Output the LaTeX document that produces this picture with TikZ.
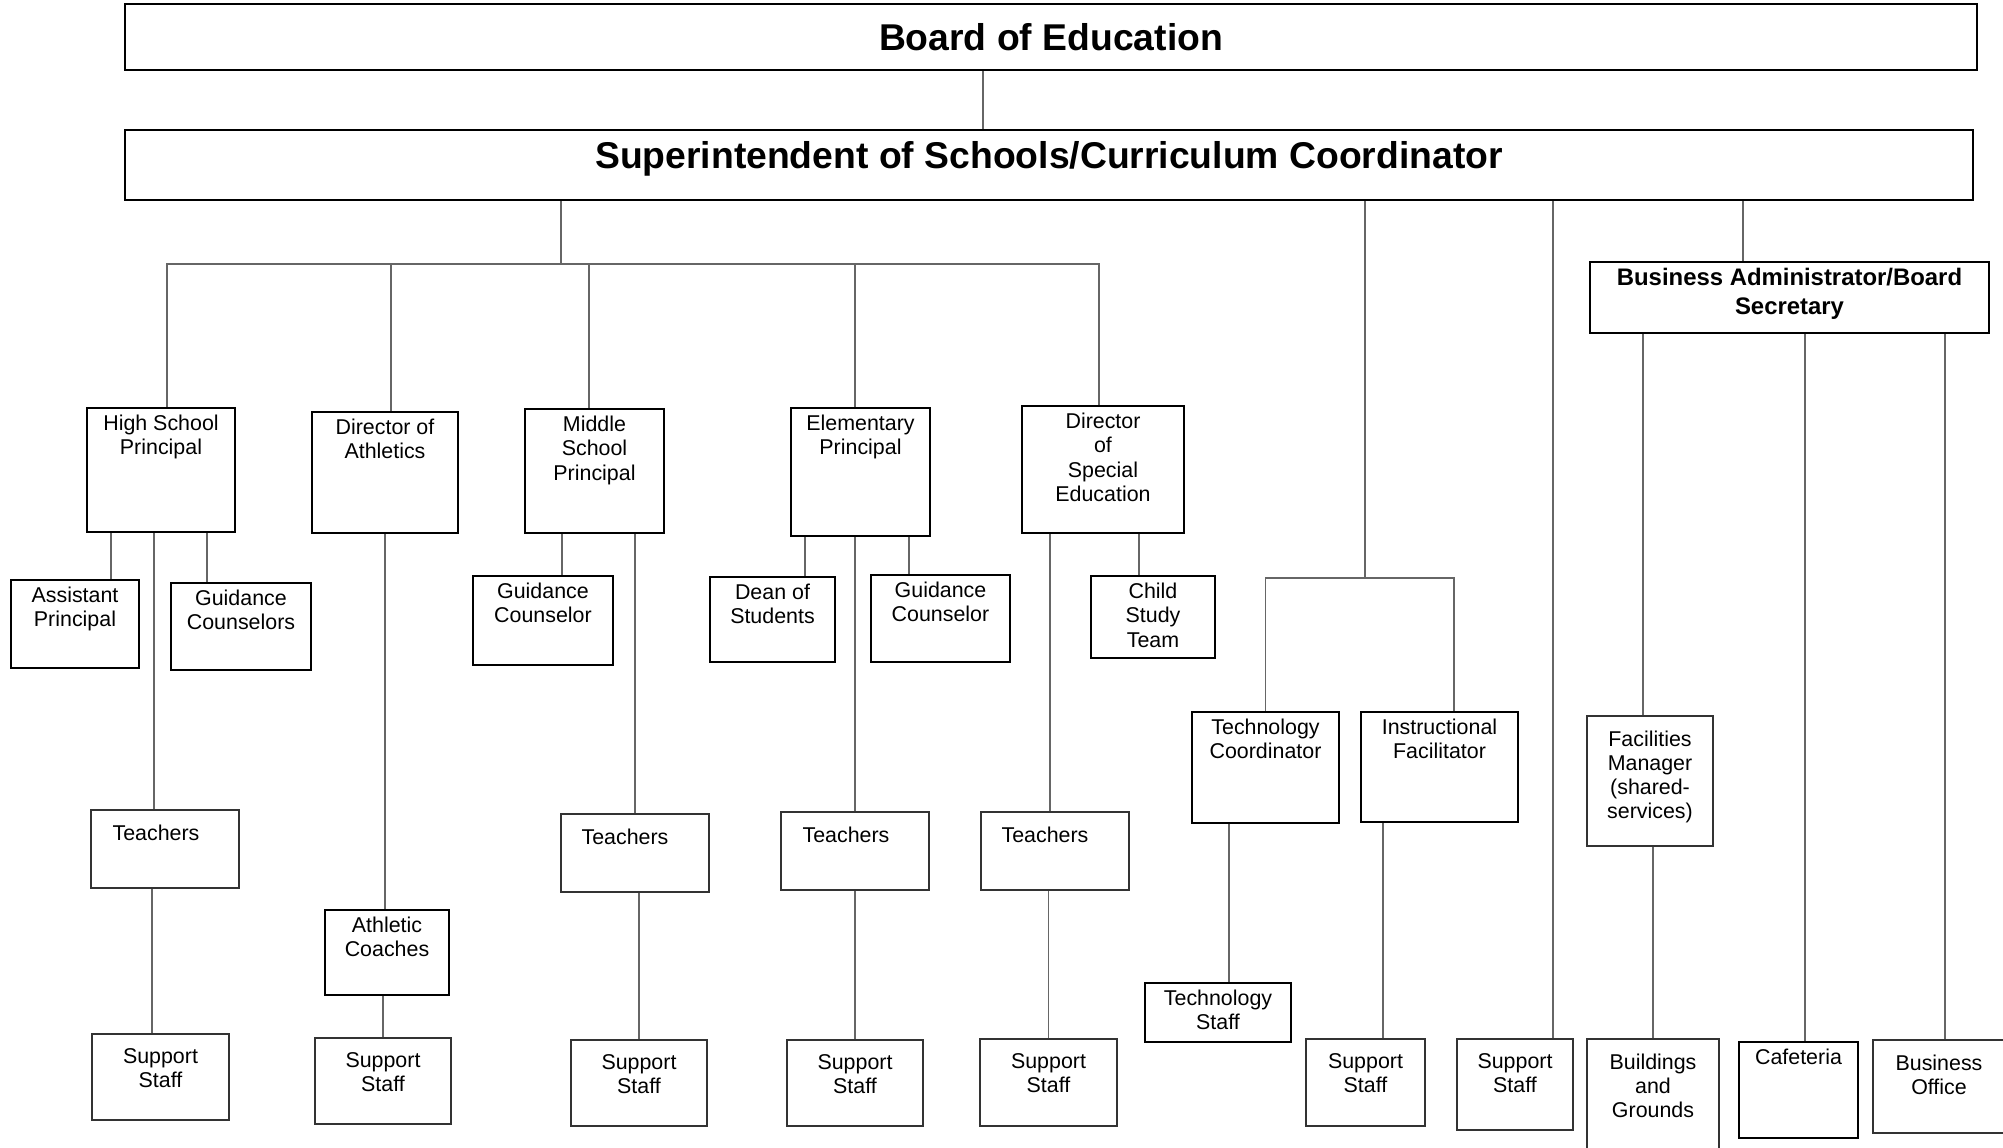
\documentclass[tikz,border=0pt]{standalone}
\usepackage{fontspec}
\setmainfont{Liberation Sans}
\tikzset{font=\fontsize{21.4}{24.3}\selectfont}

\begin{document}
\begin{tikzpicture}[x=1pt,y=-1pt,
    box/.style={draw,line width=2.2},
    thinbox/.style={draw=black!80,line width=1.4},
    lab/.style={anchor=north,align=center,inner sep=8},
    lablow/.style={lab,inner ysep=15},
    big/.style={font=\fontsize{37.3}{44}\selectfont\bfseries},
    mid/.style={font=\fontsize{23.9}{29.4}\selectfont\bfseries},
    link/.style={draw=black!60,line width=1.5}]
    \useasboundingbox (0,0) rectangle (2003,1148);

    % top of the chart
    \node[box,big,minimum width=1852,minimum height=66] (board) at (1051,37) {Board of Education};
    \node[box,minimum width=1848,minimum height=70,label={[lab,big,inner sep=12]north:{Superintendent of Schools/Curriculum Coordinator}}] (super) at (1049,165) {};
    \node[box,minimum width=399,minimum height=71,label={[lab,mid,inner sep=7]north:{Business Administrator/Board\\Secretary}}] (busadm) at (1789.5,297.5) {};

    % principals and directors
    \node[box,minimum width=148,minimum height=124,label={[lab]north:{High School\\Principal}}] (hsp) at (161,470) {};
    \node[box,minimum width=146,minimum height=121,label={[lab]north:{Director of\\Athletics}}] (dirath) at (385,472.5) {};
    \node[box,minimum width=139,minimum height=124,label={[lab]north:{Middle\\School\\Principal}}] (msp) at (594.5,471) {};
    \node[box,minimum width=139,minimum height=128,label={[lab]north:{Elementary\\Principal}}] (elp) at (860.5,472) {};
    \node[box,minimum width=162,minimum height=127,label={[lab]north:{Director\\of\\Special\\Education}}] (dirse) at (1103,469.5) {};

    % second row
    \node[box,minimum width=128,minimum height=88,label={[lab]north:{Assistant\\Principal}}] (asst) at (75,624) {};
    \node[box,minimum width=140,minimum height=87,label={[lab]north:{Guidance\\Counselors}}] (hsguid) at (241,626.5) {};
    \node[box,minimum width=140,minimum height=89,label={[lab]north:{Guidance\\Counselor}}] (msguid) at (543,620.5) {};
    \node[box,minimum width=125,minimum height=85,label={[lab]north:{Dean of\\Students}}] (dean) at (772.5,619.5) {};
    \node[box,minimum width=139,minimum height=87,label={[lab]north:{Guidance\\Counselor}}] (elguid) at (940.5,618.5) {};
    \node[box,minimum width=124,minimum height=82,label={[lab]north:{Child\\Study\\Team}}] (cst) at (1153,617) {};

    \node[box,minimum width=147,minimum height=111,label={[lab]north:{Technology\\Coordinator}}] (techco) at (1265.5,767.5) {};
    \node[box,minimum width=157,minimum height=110,label={[lab]north:{Instructional\\Facilitator}}] (instf) at (1439.5,767) {};
    \node[thinbox,minimum width=126,minimum height=130,label={[lablow]north:{Facilities\\Manager\\(shared-\\services)}}] (facman) at (1650,781) {};

    % teachers
    \node[thinbox,minimum width=148,minimum height=78,label={[lablow,xshift=-9]north:Teachers}] (hsteach) at (165,849) {};
    \node[thinbox,minimum width=148,minimum height=78,label={[lablow,xshift=-10]north:Teachers}] (msteach) at (635,853) {};
    \node[thinbox,minimum width=148,minimum height=78,label={[lablow,xshift=-9]north:Teachers}] (elteach) at (855,851) {};
    \node[thinbox,minimum width=148,minimum height=78,label={[lablow,xshift=-10]north:Teachers}] (seteach) at (1055,851) {};
    \node[box,minimum width=124,minimum height=85,label={[lab]north:{Athletic\\Coaches}}] (athco) at (387,952.5) {};
    \node[box,minimum width=146,minimum height=59,label={[lab]north:{Technology\\Staff}}] (techst) at (1218,1012.5) {};

    % bottom row
    \node[thinbox,minimum width=137,minimum height=86,label={[lablow]north:{Support\\Staff}}] (hssup) at (160.5,1077) {};
    \node[thinbox,minimum width=136,minimum height=86,label={[lablow]north:{Support\\Staff}}] (athsup) at (383,1081) {};
    \node[thinbox,minimum width=136,minimum height=86,label={[lablow]north:{Support\\Staff}}] (mssup) at (639,1083) {};
    \node[thinbox,minimum width=136,minimum height=86,label={[lablow]north:{Support\\Staff}}] (elsup) at (855,1083) {};
    \node[thinbox,minimum width=137,minimum height=87,label={[lablow]north:{Support\\Staff}}] (sesup) at (1048.5,1082.5) {};
    \node[thinbox,minimum width=119,minimum height=87,label={[lablow]north:{Support\\Staff}}] (ifsup) at (1365.5,1082.5) {};
    \node[thinbox,minimum width=116,minimum height=91,label={[lablow]north:{Support\\Staff}}] (supsup) at (1515,1084.5) {};
    \node[thinbox,minimum width=132,minimum height=121,label={[lablow]north:{Buildings\\and\\Grounds}}] (bldg) at (1653,1099.5) {};
    \node[box,minimum width=119,minimum height=96,label={[lab]north:Cafeteria}] (cafe) at (1798.5,1090) {};
    \node[thinbox,minimum width=140,minimum height=93,label={[lablow,xshift=-4]north:{Business\\Office}}] (busoff) at (1943,1086.5) {};

    % connectors
    \coordinate (bus) at (561,264);
    \coordinate (tbus) at (1365,578);
    \draw[link] ([xshift=-66]super.north) -- ([xshift=-66]super.north |- board.south);
    \draw[link] (super.south -| bus) -- (bus);
    \draw[link] ([xshift=6]hsp.north) -- ([xshift=6]hsp.north |- bus) -- ([xshift=-4]dirse.north |- bus) -- ([xshift=-4]dirse.north);
    \draw[link] ([xshift=6]dirath.north) -- ([xshift=6]dirath.north |- bus);
    \draw[link] ([xshift=-5.5]msp.north) -- ([xshift=-5.5]msp.north |- bus);
    \draw[link] ([xshift=-5.5]elp.north) -- ([xshift=-5.5]elp.north |- bus);
    \draw[link] (super.south -| tbus) -- (tbus);
    \draw[link] (techco.north) -- (techco.north |- tbus) -- ([xshift=14.5]instf.north |- tbus) -- ([xshift=14.5]instf.north);
    \draw[link] ([xshift=38]supsup.north) -- ([xshift=38]supsup.north |- super.south);
    \draw[link] ([xshift=-46.5]busadm.north) -- ([xshift=-46.5]busadm.north |- super.south);
    \draw[link] ([xshift=-7]facman.north) -- ([xshift=-7]facman.north |- busadm.south);
    \draw[link] ([xshift=6.5]cafe.north) -- ([xshift=6.5]cafe.north |- busadm.south);
    \draw[link] ([xshift=2]busoff.north) -- ([xshift=2]busoff.north |- busadm.south);
    \draw[link] (bldg.north) -- (bldg.north |- facman.south);

    \draw[link] ([xshift=-50]hsp.south) -- ([xshift=-50]hsp.south |- asst.north);
    \draw[link] ([xshift=46]hsp.south) -- ([xshift=46]hsp.south |- hsguid.north);
    \draw[link] ([xshift=-7]hsp.south) -- ([xshift=-7]hsp.south |- hsteach.north);
    \draw[link] ([xshift=-8.5]hssup.north) -- ([xshift=-8.5]hssup.north |- hsteach.south);
    \draw[link] (dirath.south) -- (dirath.south |- athco.north);
    \draw[link] (athsup.north) -- (athsup.north |- athco.south);
    \draw[link] ([xshift=-32.5]msp.south) -- ([xshift=-32.5]msp.south |- msguid.north);
    \draw[link] (msteach.north) -- (msteach.north |- msp.south);
    \draw[link] (mssup.north) -- (mssup.north |- msteach.south);
    \draw[link] ([xshift=-55.5]elp.south) -- ([xshift=-55.5]elp.south |- dean.north);
    \draw[link] ([xshift=48.5]elp.south) -- ([xshift=48.5]elp.south |- elguid.north);
    \draw[link] (elteach.north) -- (elteach.north |- elp.south);
    \draw[link] (elsup.north) -- (elsup.north |- elteach.south);
    \draw[link] ([xshift=36]dirse.south) -- ([xshift=36]dirse.south |- cst.north);
    \draw[link] ([xshift=-5]seteach.north) -- ([xshift=-5]seteach.north |- dirse.south);
    \draw[link] (sesup.north) -- (sesup.north |- seteach.south);
    \draw[link] ([xshift=11]techst.north) -- ([xshift=11]techst.north |- techco.south);
    \draw[link] ([xshift=17.5]ifsup.north) -- ([xshift=17.5]ifsup.north |- instf.south);
\end{tikzpicture}
\end{document}
